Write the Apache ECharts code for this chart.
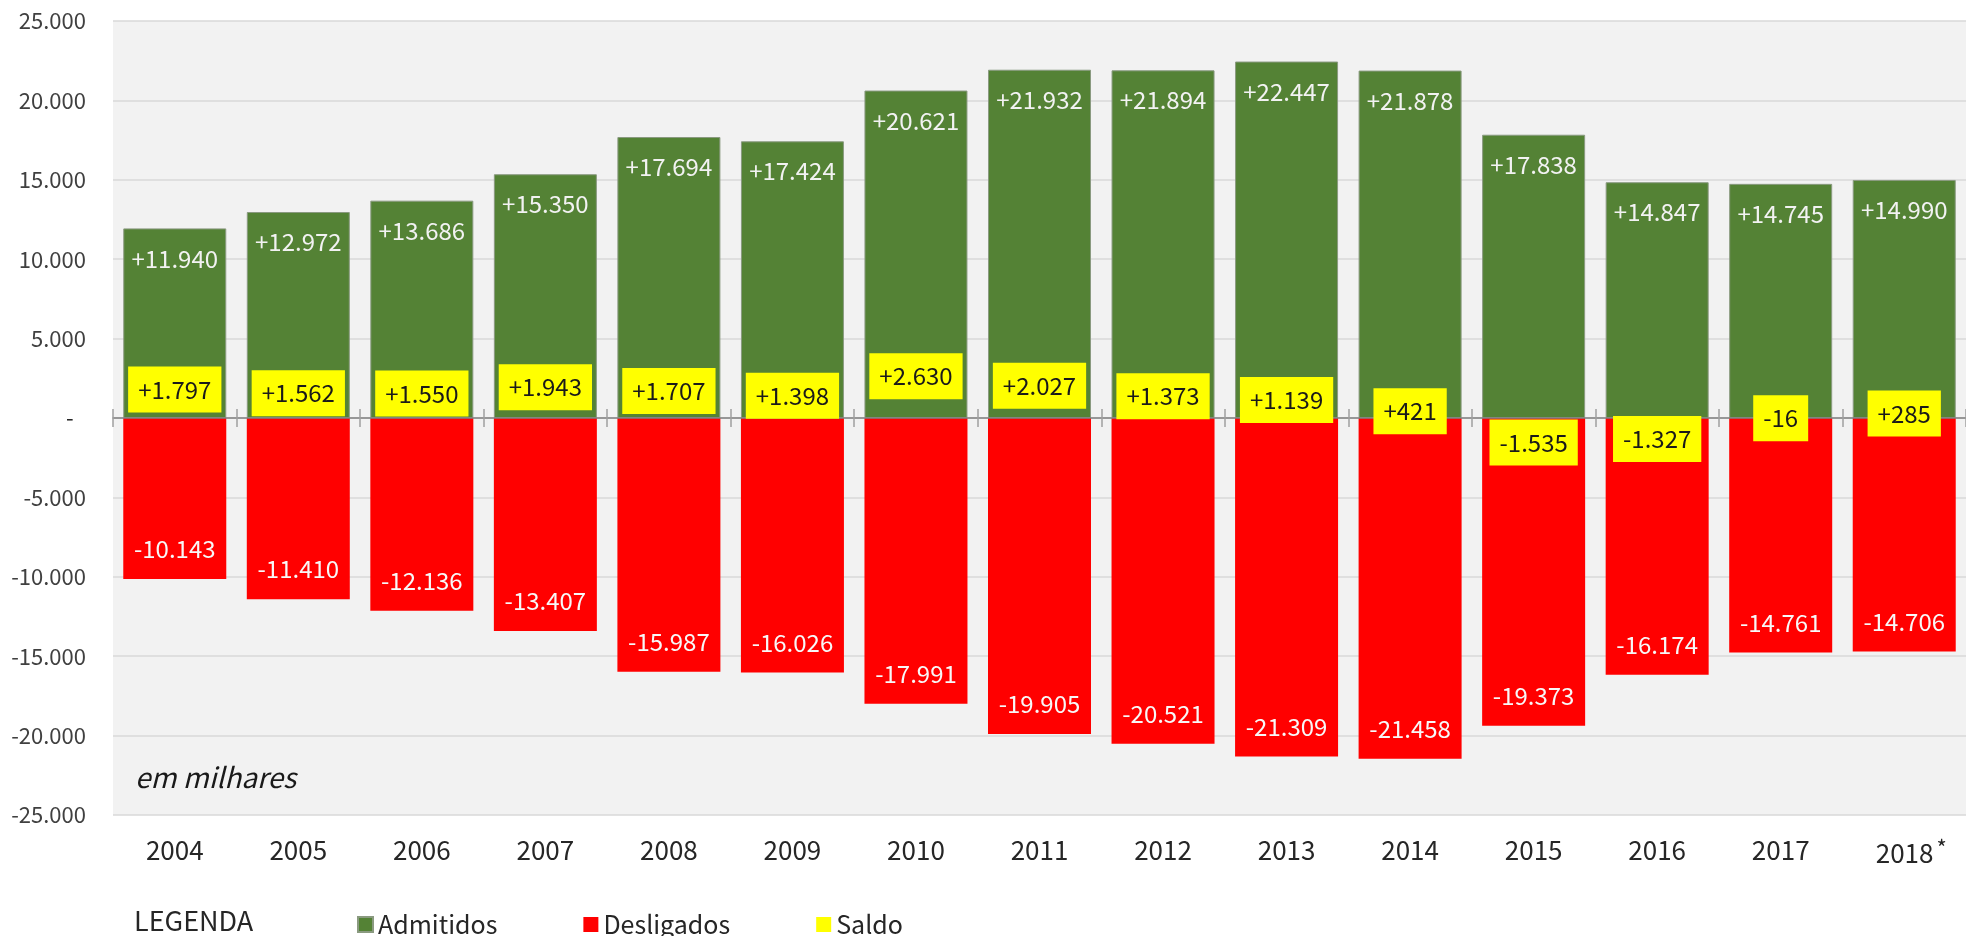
<!DOCTYPE html>
<html><head><meta charset="utf-8">
<script src="https://cdn.jsdelivr.net/npm/echarts@6/dist/echarts.min.js"></script>
<style>html,body{margin:0;padding:0;background:#fff}#c{width:1966px;height:936px}</style>
</head><body><div id="c"></div>
<script>
const years = ['2004','2005','2006','2007','2008','2009','2010','2011','2012','2013','2014','2015','2016','2017','2018'];
const admitidos = [11940,12972,13686,15350,17694,17424,20621,21932,21894,22447,21878,17838,14847,14745,14990];
const desligados = [-10143,-11410,-12136,-13407,-15987,-16026,-17991,-19905,-20521,-21309,-21458,-19373,-16174,-14761,-14706];
const saldo = [1797,1562,1550,1943,1707,1398,2630,2027,1373,1139,421,-1535,-1327,-16,285];
const yTicks = {min:-25000, max:25000, interval:5000};
const FONT = '"Noto Sans CJK JP","Noto Sans",sans-serif';

function fmt(v){
  const s = Math.abs(v).toString().replace(/\B(?=(\d{3})+(?!\d))/g,'.');
  return (v<0?'-':'') + s;
}
function signed(v){ return (v>0?'+':'') + fmt(v); }

const chart = echarts.init(document.getElementById('c'));
chart.setOption({
  backgroundColor:'#ffffff',
  textStyle:{fontFamily:FONT},
  grid:{left:113, right:0, top:21, bottom:121, show:true, backgroundColor:'#f2f2f2', borderWidth:0},
  legend:{
    data:[
      {name:'Admitidos', itemStyle:{color:'#548235'}},
      {name:'Desligados', itemStyle:{color:'#ff0000'}},
      {name:'Saldo', itemStyle:{color:'#ffff00', opacity:1}}
    ],
    left:352, top:907, itemWidth:15, itemHeight:15, itemGap:86,
    icon:'rect',
    textStyle:{fontFamily:FONT, fontSize:25, color:'#262626'},
    selectedMode:false
  },
  graphic:[
    {type:'text', left:134, top:907, style:{text:'LEGENDA', fontFamily:FONT, fontSize:27, fill:'#262626'}},
    {type:'text', left:135, top:763, style:{text:'em milhares', fontFamily:FONT, fontSize:28, fontStyle:'italic', fill:'#1a1a1a'}}
  ],
  xAxis:[
    {type:'category', data:years, position:'bottom',
     axisLine:{show:false, onZero:false}, axisTick:{show:false},
     axisLabel:{interval:0, margin:22, fontSize:26, color:'#262626', fontFamily:FONT,
       formatter:function(v){ return v==='2018' ? '{a|2018}{s|*}' : v; },
       rich:{a:{fontSize:26, color:'#262626', padding:[0,0,0,14], fontFamily:FONT}, s:{fontSize:22, color:'#262626', verticalAlign:'top', padding:[0,0,10,3], fontFamily:FONT}}}},
    {type:'category', data:years, position:'bottom', z:10,
     axisLine:{show:true, onZero:true, onZeroAxisIndex:0, lineStyle:{color:'#808080', width:1.5}},
     axisTick:{show:true, interval:0, length:9, lineStyle:{color:'#a0a0a0', width:1.5}},
     axisLabel:{show:false, interval:0}},
    {type:'category', data:years, position:'bottom', z:10,
     axisLine:{show:false, onZero:true, onZeroAxisIndex:1},
     axisTick:{show:true, inside:true, interval:0, length:9, lineStyle:{color:'#a0a0a0', width:1.5}},
     axisLabel:{show:false, interval:0}}
  ],
  yAxis:[
    {type:'value', min:yTicks.min, max:yTicks.max, interval:yTicks.interval,
     axisLine:{show:false}, axisTick:{show:false},
     splitLine:{lineStyle:{color:'#d9d9d9', width:1.5}},
     axisLabel:{margin:27, fontSize:22, color:'#404040', fontFamily:FONT,
       formatter:function(v){ return v===0 ? '{z|-}' : fmt(v); },
       rich:{z:{width:20, align:'left', fontSize:22, color:'#262626', fontFamily:FONT}}}},
    {type:'value', min:yTicks.min, max:yTicks.max, interval:yTicks.interval, position:'left',
     axisLine:{show:false}, axisTick:{show:false}, splitLine:{show:false}, axisLabel:{show:false}}
  ],
  series:[
    {name:'Admitidos', type:'bar', data:admitidos, barWidth:103, barGap:'-100%',
     itemStyle:{color:'#548235', borderColor:'#8a9a80', borderWidth:1},
     label:{show:true, position:'insideTop', distance:18, color:'#f2f2f2', fontSize:24, fontFamily:FONT,
       formatter:function(p){return signed(p.value);}}},
    {name:'Desligados', type:'bar', data:desligados, barWidth:103,
     itemStyle:{color:'#ff0000'},
     label:{show:true, position:'insideBottom', distance:18, color:'#f8f8f8', fontSize:24, fontFamily:FONT,
       formatter:function(p){return fmt(p.value);}}},
    {name:'Saldo', type:'scatter', data:saldo, symbolSize:1, z:20,
     itemStyle:{color:'rgba(255,255,0,0)', opacity:1},
     label:{show:true, position:'inside', backgroundColor:'#ffff00', padding:[11,10,11,10],
       color:'#1a1a1a', fontSize:24, fontFamily:FONT,
       formatter:function(p){return signed(p.value);}}}
  ]
});
</script></body></html>
